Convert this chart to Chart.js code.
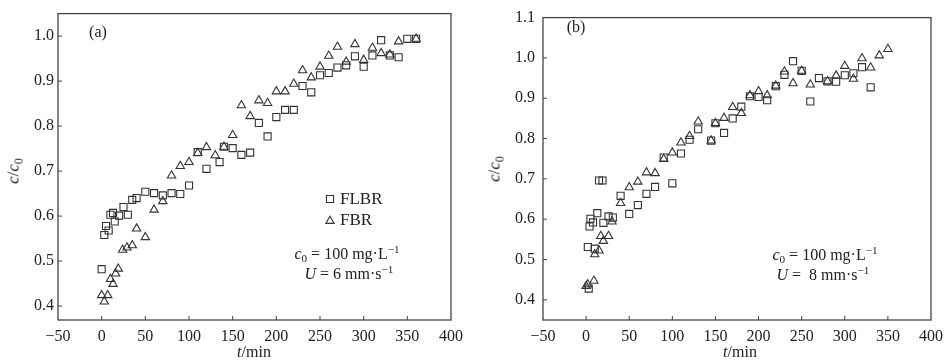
<!DOCTYPE html>
<html>
<head>
<meta charset="utf-8">
<script src="https://cdn.jsdelivr.net/npm/chart.js@4.4.1/dist/chart.umd.min.js"></script>
<style>
body{margin:0;background:#fff;font-family:"Liberation Serif","Times New Roman",serif;color:#222}
#wrap{position:relative;width:950px;height:364px;overflow:hidden}
canvas{position:absolute;top:0}
.t{position:absolute;white-space:nowrap;line-height:1;font-size:16px}
.yt{transform:translate(-50%,-50%) rotate(-90deg)}
.c{transform:translate(-50%,-50%)}
sub{font-size:70%;vertical-align:-0.3em;line-height:0}
sup{font-size:70%;vertical-align:0.55em;line-height:0}
</style>
</head>
<body>
<div id="wrap">
  <canvas id="chartA" width="475" height="364" style="left:0"></canvas>
  <canvas id="chartB" width="475" height="364" style="left:475px"></canvas>

  <div class="t c" style="left:98px;top:32px">(a)</div>
  <div class="t c" style="left:576px;top:27px">(b)</div>

  <div class="t yt" style="left:13px;top:171px;font-size:17px"><i>c</i>/<i>c</i><sub>0</sub></div>
  <div class="t yt" style="left:494px;top:169px;font-size:17px"><i>c</i>/<i>c</i><sub>0</sub></div>
  <div class="t c" style="left:254px;top:352px"><i>t</i>/min</div>
  <div class="t c" style="left:740px;top:352px"><i>t</i>/min</div>

  <div class="t c" style="left:347px;top:254px"><i>c</i><sub>0</sub> = 100 mg·L<sup>−1</sup></div>
  <div class="t c" style="left:349px;top:274px"><i>U</i> = 6 mm·s<sup>−1</sup></div>
  <div class="t c" style="left:825px;top:255px"><i>c</i><sub>0</sub> = 100 mg·L<sup>−1</sup></div>
  <div class="t c" style="left:823px;top:275px"><i>U</i> =&nbsp; 8 mm·s<sup>−1</sup></div>
</div>
<script>
// tick labels
const xTicks = [-50, 0, 50, 100, 150, 200, 250, 300, 350, 400];
const yTicksA = [0.4, 0.5, 0.6, 0.7, 0.8, 0.9, 1.0];
const yTicksB = [0.4, 0.5, 0.6, 0.7, 0.8, 0.9, 1.0, 1.1];
const seriesNames = ["FLBR", "FBR"];

// (a) U = 6 mm/s
const tFlbrA = [0,3,5,8,10,13,15,20,25,30,35,40,50,60,70,80,90,100,110,120,135,140,150,160,170,180,190,200,210,220,230,240,250,260,270,280,290,300,310,320,330,340,350,360];
const cFlbrA = [0.482,0.558,0.578,0.568,0.603,0.607,0.588,0.601,0.620,0.603,0.636,0.640,0.654,0.651,0.646,0.651,0.649,0.668,0.742,0.705,0.720,0.754,0.751,0.736,0.741,0.807,0.777,0.820,0.836,0.836,0.889,0.875,0.913,0.918,0.930,0.935,0.955,0.932,0.957,0.991,0.957,0.953,0.994,0.994];
const tFbrA = [0,3,7,10,13,16,19,24,29,35,40,50,60,70,80,90,100,110,120,130,140,150,160,170,180,190,200,210,220,230,240,250,260,270,280,290,300,310,320,330,340,360];
const cFbrA = [0.424,0.410,0.424,0.460,0.449,0.472,0.483,0.525,0.530,0.535,0.572,0.553,0.614,0.633,0.690,0.711,0.720,0.740,0.753,0.735,0.754,0.780,0.846,0.822,0.857,0.851,0.877,0.877,0.894,0.924,0.908,0.932,0.956,0.976,0.943,0.982,0.947,0.974,0.962,0.959,0.988,0.994];

// (b) U = 8 mm/s
const tFlbrB = [2,3,4,5,8,10,13,15,19,20,26,31,40,50,60,70,80,90,100,110,120,130,145,150,160,170,180,190,200,210,220,230,240,250,260,270,280,290,300,310,320,330];
const cFlbrB = [0.531,0.428,0.582,0.601,0.592,0.527,0.615,0.696,0.696,0.591,0.607,0.604,0.658,0.613,0.635,0.663,0.680,0.753,0.689,0.763,0.797,0.823,0.795,0.838,0.814,0.850,0.879,0.905,0.903,0.895,0.930,0.958,0.992,0.968,0.892,0.950,0.942,0.941,0.957,0.962,0.977,0.927];
const tFbrB = [0,2,9,10,15,17,20,26,30,40,50,60,70,80,90,100,110,120,130,145,150,160,170,180,190,200,210,220,230,240,250,260,280,290,300,310,320,330,340,350];
const cFbrB = [0.434,0.438,0.447,0.513,0.522,0.558,0.546,0.558,0.594,0.640,0.679,0.693,0.716,0.714,0.749,0.765,0.790,0.806,0.842,0.795,0.838,0.851,0.878,0.863,0.907,0.917,0.907,0.931,0.966,0.937,0.968,0.934,0.942,0.956,0.980,0.948,0.999,0.976,1.006,1.022];

const ink = "#333";
const serif = '"Liberation Serif", "Times New Roman", serif';

function pts(t, c){ return t.map((v, i) => ({x: v, y: c[i]})); }

function marker(ctx, style, x, y, r){
  ctx.beginPath();
  if(style === "rect"){
    const s = Math.SQRT1_2 * r;
    ctx.rect(x - s, y - s, 2 * s, 2 * s);
  } else {
    ctx.moveTo(x, y - r);
    ctx.lineTo(x + 0.866 * r, y + r / 2);
    ctx.lineTo(x - 0.866 * r, y + r / 2);
    ctx.closePath();
  }
  ctx.stroke();
}

// box around the plot, inward ticks, and the in-plot legend
const frame = {
  id: "frame",
  afterDraw(chart, args, opts){
    const {ctx, chartArea: a, scales: {x, y}} = chart;
    ctx.save();
    ctx.strokeStyle = "#444";
    ctx.lineWidth = 1.3;
    ctx.strokeRect(a.left, a.top, a.right - a.left, a.bottom - a.top);
    ctx.lineWidth = 1;
    ctx.beginPath();
    x.ticks.forEach(t => {
      const px = x.getPixelForValue(t.value);
      if(px > a.left + 1 && px < a.right - 1){ ctx.moveTo(px, a.bottom); ctx.lineTo(px, a.bottom - 4); }
    });
    y.ticks.forEach(t => {
      const py = y.getPixelForValue(t.value);
      if(py > a.top + 1 && py < a.bottom - 1){ ctx.moveTo(a.left, py); ctx.lineTo(a.left + 4, py); }
    });
    ctx.stroke();
    if(opts.legend){
      ctx.strokeStyle = ink;
      ctx.lineWidth = 1.1;
      ctx.fillStyle = "#222";
      ctx.font = "17px " + serif;
      ctx.textBaseline = "middle";
      chart.data.datasets.forEach((ds, i) => {
        const ly = opts.legend.y + i * 21;
        marker(ctx, ds.pointStyle, opts.legend.x, ly + (ds.pointStyle === "triangle" ? 1 : 0), ds.pointRadius);
        ctx.fillText(ds.label, opts.legend.x + 10, ly + 1);
      });
    }
    ctx.restore();
  }
};

function makeChart(id, flbr, fbr, yTicks, yMin, yMax, yWidth, pad, yPad, legend){
  return new Chart(document.getElementById(id), {
    type: "scatter",
    data: {
      datasets: [
        {label: seriesNames[0], data: flbr, pointStyle: "rect", pointRadius: 5,
         borderColor: ink, backgroundColor: "rgba(0,0,0,0)", pointBorderWidth: 1.1, pointHoverRadius: 5},
        {label: seriesNames[1], data: fbr, pointStyle: "triangle", pointRadius: 4.8,
         borderColor: ink, backgroundColor: "rgba(0,0,0,0)", pointBorderWidth: 1.1, pointHoverRadius: 4.8}
      ]
    },
    options: {
      responsive: false,
      animation: false,
      layout: {padding: pad},
      plugins: {legend: {display: false}, tooltip: {enabled: false}, frame: {legend: legend}},
      scales: {
        x: {
          type: "linear", min: -50, max: 400,
          afterBuildTicks: s => { s.ticks = xTicks.map(v => ({value: v})); },
          afterFit: s => { s.height = 44; },
          grid: {display: false, drawTicks: false},
          border: {display: false},
          ticks: {padding: 7, color: "#222", font: {family: serif, size: 16},
                  callback: v => String(v).replace("-", "−")}
        },
        y: {
          type: "linear", min: yMin, max: yMax,
          afterBuildTicks: s => { s.ticks = yTicks.map(v => ({value: v})); },
          afterFit: s => { s.width = yWidth; },
          grid: {display: false, drawTicks: false},
          border: {display: false},
          ticks: {padding: yPad, color: "#222", font: {family: serif, size: 16},
                  callback: v => v.toFixed(1)}
        }
      }
    },
    plugins: [frame]
  });
}

makeChart("chartA", pts(tFlbrA, cFlbrA), pts(tFbrA, cFbrA), yTicksA, 0.369, 1.05, 58,
  {top: 10, right: 24, left: 0, bottom: 0}, 4, {x: 330, y: 199});
makeChart("chartB", pts(tFlbrB, cFlbrB), pts(tFbrB, cFbrB), yTicksB, 0.35, 1.1, 68,
  {top: 10, right: 13, left: 0, bottom: 0}, 8, null);
</script>
</body>
</html>
